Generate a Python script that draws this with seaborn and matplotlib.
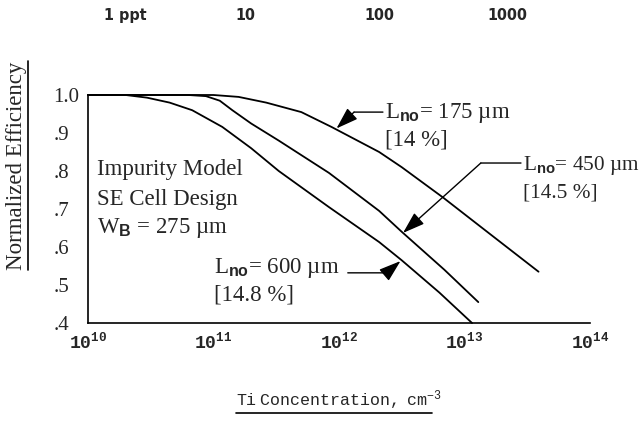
import numpy as np
import pandas as pd
import matplotlib
matplotlib.use("Agg")
import matplotlib.pyplot as plt
from matplotlib.lines import Line2D
import seaborn as sns

# ---- data (log10 of Ti concentration, normalized efficiency)
log_175 = [10.0, 11.0, 11.2, 11.42, 11.7, 11.94, 12.32, 12.5, 12.83, 13.2, 13.59]
eff_175 = [1.0, 1.0, 0.995, 0.98, 0.955, 0.916, 0.85, 0.81, 0.73, 0.635, 0.535]

log_450 = [10.0, 10.8, 10.94, 11.05, 11.15, 11.3, 11.52, 11.92, 12.32, 12.5, 12.84, 13.11]
eff_450 = [1.0, 1.0, 0.997, 0.985, 0.96, 0.925, 0.88, 0.795, 0.695, 0.64, 0.54, 0.455]

log_600 = [10.0, 10.3, 10.47, 10.65, 10.83, 11.07, 11.3, 11.52, 11.92, 12.32, 12.5, 12.8, 13.06]
eff_600 = [1.0, 1.0, 0.993, 0.98, 0.96, 0.916, 0.86, 0.80, 0.705, 0.613, 0.565, 0.48, 0.40]

y_ticks = [1.0, 0.9, 0.8, 0.7, 0.6, 0.5, 0.4]
y_ticklabels = ["1.0", ".9", ".8", ".7", ".6", ".5", ".4"]
x_exps = [10, 11, 12, 13, 14]
top_ticks = [2.0e10, 1.8e11, 2.1e12, 2.2e13]
top_labels = ["1 ppt", "10", "100", "1000"]

df = pd.concat([
    pd.DataFrame({"conc": 10 ** np.array(log_175), "eff": eff_175, "L": "175"}),
    pd.DataFrame({"conc": 10 ** np.array(log_450), "eff": eff_450, "L": "450"}),
    pd.DataFrame({"conc": 10 ** np.array(log_600), "eff": eff_600, "L": "600"}),
])

sns.set_theme(style="white")
plt.rcParams["font.family"] = ["Liberation Serif", "DejaVu Serif"]
plt.rcParams["mathtext.fontset"] = "custom"
plt.rcParams["mathtext.rm"] = "Liberation Serif"
plt.rcParams["mathtext.it"] = "Liberation Serif:italic"
plt.rcParams["mathtext.bf"] = "Liberation Mono:bold"
plt.rcParams["mathtext.tt"] = "Liberation Mono"
plt.rcParams["mathtext.sf"] = "Liberation Sans:bold"

fig = plt.figure(figsize=(6.44, 4.23), dpi=100)
ax = fig.add_axes([88 / 644, 1 - 323 / 423, (590 - 88) / 644, (323 - 95) / 423])

for name, sub in df.groupby("L"):
    sns.lineplot(data=sub, x="conc", y="eff", ax=ax, color="black", lw=1.3,
                 sort=False, estimator=None, clip_on=False)

ax.set_xscale("log")
ax.set_xlim(1e10, 1e14)
ax.set_ylim(0.4, 1.0)
ax.set_xticks([10.0 ** e for e in x_exps])
ax.set_xticklabels([r"$\mathbf{10^{%d}}$" % e for e in x_exps], fontsize=13)
ax.xaxis.set_minor_locator(matplotlib.ticker.NullLocator())
ax.set_yticks(y_ticks)
ax.set_yticklabels(y_ticklabels, fontsize=15)
for lbl in ax.get_yticklabels():
    lbl.set_horizontalalignment("left")
ax.tick_params(axis="y", length=0, pad=25)
ax.tick_params(axis="x", length=0, pad=6)
ax.set_xlabel(r"$\mathtt{Ti\ Concentration,\ cm^{-3}}$", fontsize=12, labelpad=26)
ax.set_ylabel("Normalized Efficiency", fontsize=16.5)
ax.yaxis.set_label_coords(-0.122, 0.69)
for s in ["top", "right"]:
    ax.spines[s].set_visible(False)
for s in ["left", "bottom"]:
    ax.spines[s].set_color("black")
    ax.spines[s].set_linewidth(1.2)

# top ppt axis
ax2 = ax.twiny()
ax2.set_xscale("log")
ax2.set_xlim(ax.get_xlim())
ax2.set_xticks(top_ticks)
ax2.set_xticklabels(top_labels, fontsize=11.5, family="DejaVu Sans",
                    fontstretch="condensed", fontweight="bold")
ax2.xaxis.set_minor_locator(matplotlib.ticker.NullLocator())
ax2.tick_params(axis="x", length=0, pad=52)
for s in ax2.spines.values():
    s.set_visible(False)

# left text block
fs = 16.5
ax.text(10 ** 10.07, 0.803, "Impurity Model", fontsize=fs, va="center")
ax.text(10 ** 10.07, 0.726, "SE Cell Design", fontsize=fs, va="center")
ax.text(10 ** 10.07, 0.65, r"W$_{\mathsf{B}}$ = 275 µm", fontsize=fs, va="center")

# curve labels with leaders and arrows
arrow_kw = dict(arrowstyle="-|>,head_length=0.9,head_width=0.3", color="black",
                lw=1.0, mutation_scale=15, shrinkA=0, shrinkB=0)
line_kw = dict(arrowstyle="-", color="black", lw=1.0, shrinkA=0, shrinkB=0)

labels = [
    # text, bracket, text pos (log, eff), leader start, leader end, tip (log, eff), font size
    (r"L$_{\mathsf{no}}$= 175 µm", "[14 %]", (12.37, 0.953), (12.35, 0.955), (12.12, 0.955), (11.98, 0.912), fs),
    (r"L$_{\mathsf{no}}$= 450 µm", "[14.5 %]", (13.47, 0.815), (13.45, 0.821), (13.13, 0.821), (12.51, 0.637), 15.3),
    (r"L$_{\mathsf{no}}$= 600 µm", "[14.8 %]", (11.0, 0.545), (12.07, 0.532), (12.38, 0.532), (12.49, 0.563), fs),
]
for txt, br, tpos, l0, l1, tip, size in labels:
    ax.text(10 ** tpos[0], tpos[1], txt, fontsize=size, va="center")
    ax.text(10 ** tpos[0], tpos[1] - 0.072, br, fontsize=size, va="center")
    ax.annotate("", xy=(10 ** l1[0], l1[1]), xytext=(10 ** l0[0], l0[1]), arrowprops=line_kw)
    ax.annotate("", xy=(10 ** tip[0], tip[1]), xytext=(10 ** l1[0], l1[1]), arrowprops=arrow_kw)

# underline the axis titles
fig.canvas.draw()
r = fig.canvas.get_renderer()
inv = fig.transFigure.inverted()
bb = ax.yaxis.label.get_window_extent(r)
(x0, y0), (x1, y1) = inv.transform([[bb.x1 + 1, bb.y0], [bb.x1 + 1, bb.y1]])
fig.add_artist(Line2D([x0, x1], [y0, y1], color="black", lw=1.2, transform=fig.transFigure))
bb = ax.xaxis.label.get_window_extent(r)
(x0, y0), (x1, y1) = inv.transform([[bb.x0, bb.y0 - 1], [bb.x1 - 10, bb.y0 - 1]])
fig.add_artist(Line2D([x0, x1], [y0, y1], color="black", lw=1.2, transform=fig.transFigure))

fig.savefig("out.png", dpi=100, facecolor="white")
